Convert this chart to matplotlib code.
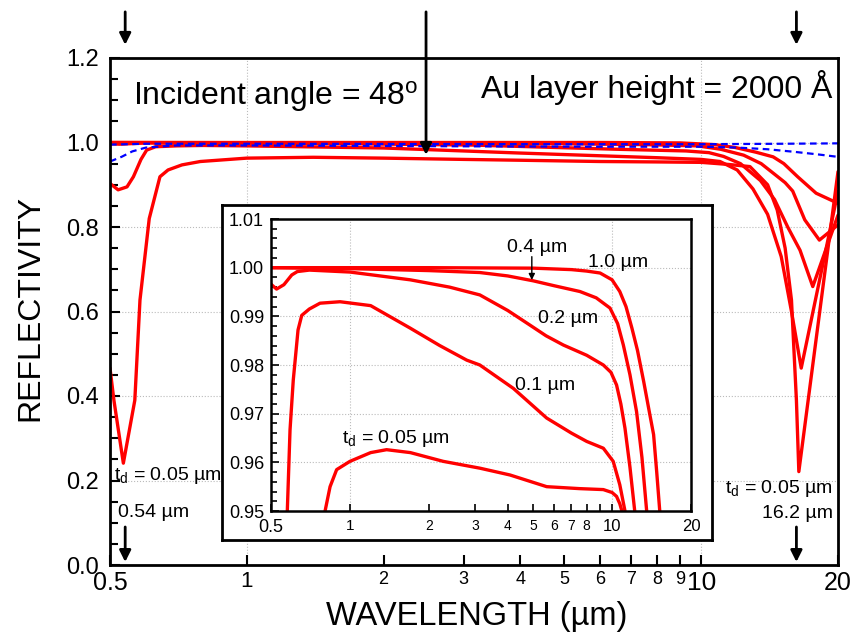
import matplotlib
matplotlib.use("Agg")
import numpy as np
import matplotlib.pyplot as plt
from matplotlib.ticker import MultipleLocator, NullLocator

plt.rcParams['font.family'] = ['Liberation Sans', 'DejaVu Sans']
plt.rcParams['mathtext.fontset'] = 'custom'
plt.rcParams['mathtext.rm'] = 'Liberation Sans'
plt.rcParams['mathtext.it'] = 'Liberation Sans:italic'

# ---- main chart: reflectivity vs wavelength (um), one curve per t_d ----
main_x_005 = [0.5, 0.51, 0.535, 0.567, 0.582, 0.61, 0.644, 0.671, 0.72, 0.79, 1.0, 1.4, 2, 3, 4, 6, 8, 10,
              11.5, 12.8, 14.0, 14.7, 15.3, 15.8, 16.2, 16.4, 20]
main_y_005 = [0.466, 0.39, 0.241, 0.39, 0.627, 0.82, 0.919, 0.935, 0.947, 0.955, 0.963, 0.965, 0.963, 0.960,
              0.958, 0.955, 0.954, 0.953, 0.948, 0.943, 0.90, 0.84, 0.75, 0.627, 0.39, 0.221, 0.931]

main_x_01 = [0.5, 0.521, 0.545, 0.563, 0.585, 0.602, 0.63, 0.7, 0.8, 1.0, 2, 4, 8, 10, 11, 12, 13, 14, 15,
             15.8, 16.6, 20]
main_y_01 = [0.903, 0.888, 0.895, 0.919, 0.96, 0.982, 0.99, 0.992, 0.993, 0.992, 0.987, 0.975, 0.964, 0.960,
             0.955, 0.935, 0.89, 0.83, 0.73, 0.60, 0.466, 0.884]

main_x_02 = [0.5, 0.525, 0.6, 1.0, 1.7, 3.13, 4.86, 6.52, 9.26, 10.4, 11.2, 12.2, 13.5, 14.5, 15.5, 16.5,
             17.6, 20]
main_y_02 = [0.997, 0.996, 0.999, 0.999, 0.997, 0.994, 0.988, 0.984, 0.980, 0.976, 0.967, 0.95, 0.91, 0.865,
             0.80, 0.745, 0.659, 0.828]

main_x_04 = [0.5, 1, 3.13, 5, 7.54, 9.82, 11.04, 12.4, 13.55, 14.5, 15.3, 15.9, 16.9, 18.2, 20]
main_y_04 = [1.0, 0.9995, 0.999, 0.997, 0.995, 0.992, 0.984, 0.970, 0.95, 0.925, 0.905, 0.885, 0.817, 0.769,
             0.805]

main_x_10 = [0.5, 6, 9, 10.7, 11.9, 13.2, 14.4, 15.2, 16.3, 17.9, 20]
main_y_10 = [1.0, 1.0, 0.999, 0.995, 0.988, 0.977, 0.966, 0.95, 0.919, 0.880, 0.856]

# blue dashed curves
blue_x_a = [0.5, 0.53, 0.56, 0.6, 0.7, 1, 3, 6, 10, 12, 14, 16, 18, 20]
blue_y_a = [0.955, 0.966, 0.979, 0.988, 0.993, 0.993, 0.991, 0.990, 0.990, 0.988, 0.984, 0.978, 0.972, 0.966]
blue_x_b = [0.5, 0.6, 1, 5, 10, 15, 20]
blue_y_b = [0.995, 0.997, 0.997, 0.996, 0.996, 0.997, 0.998]

# ---- inset: zoom 0.95 - 1.01 ----
ins_x_005 = [0.804, 0.84, 0.89, 1.0, 1.2, 1.38, 1.7, 2.27, 3.13, 4.08, 5.63, 7.5, 9.26, 10.0, 10.4, 10.7, 10.9]
ins_y_005 = [0.950, 0.955, 0.9585, 0.9602, 0.9620, 0.9626, 0.9620, 0.9602, 0.9588, 0.9574, 0.9550, 0.9546,
             0.9544, 0.9538, 0.9530, 0.9515, 0.950]

ins_x_01 = [0.577, 0.591, 0.608, 0.634, 0.655, 0.7, 0.769, 0.917, 1.2, 1.695, 2.2, 2.79, 3.13, 4.2, 5.63, 7.0,
            8.0, 9.26, 10.1, 10.7, 11.2]
ins_y_01 = [0.950, 0.9667, 0.9769, 0.9872, 0.9902, 0.9915, 0.9927, 0.9930, 0.9922, 0.9876, 0.984, 0.981,
            0.980, 0.9752, 0.9691, 0.966, 0.9643, 0.9629, 0.9602, 0.9554, 0.950]

ins_x_02 = [0.5, 0.525, 0.56, 0.6, 0.63, 0.7, 1.0, 1.7, 2.4, 3.13, 4.0, 4.86, 5.6, 6.52, 8.0, 9.26, 9.9, 10.4,
            10.8, 11.2, 11.7, 12.2]
ins_y_02 = [0.9966, 0.9956, 0.9965, 0.9985, 0.9992, 0.9995, 0.9991, 0.9975, 0.996, 0.9944, 0.9912, 0.9882,
            0.986, 0.9841, 0.982, 0.980, 0.9785, 0.9759, 0.972, 0.967, 0.959, 0.950]

ins_x_04 = [0.5, 1, 2, 3.13, 4, 5, 6, 7.54, 8.7, 9.82, 10.5, 11.04, 11.7, 12.4, 13.0, 13.55]
ins_y_04 = [1.000, 0.9998, 0.9994, 0.9990, 0.9983, 0.9973, 0.9963, 0.9951, 0.9938, 0.9917, 0.9885, 0.9841,
            0.978, 0.9704, 0.961, 0.950]

ins_x_10 = [0.5, 2, 5, 7, 8, 9, 10, 10.7, 11.3, 11.9, 12.5, 13.2, 13.8, 14.4, 14.8, 15.2]
ins_y_10 = [1.000, 1.000, 0.9999, 0.9996, 0.9993, 0.9989, 0.9975, 0.9951, 0.992, 0.9876, 0.983, 0.9766,
            0.971, 0.9657, 0.958, 0.950]

x_ticks = [0.5, 1, 2, 3, 4, 5, 6, 7, 8, 9, 10, 20]
x_tick_labels = ['0.5', '1', '2', '3', '4', '5', '6', '7', '8', '9', '10', '20']
x_tick_sizes = [18, 16, 13, 13, 13, 13, 13, 13, 13, 13, 19, 18]
ins_tick_labels = ['0.5', '1', '2', '3', '4', '5', '6', '7', '8', '', '10', '20']
ins_tick_sizes = [13, 11, 10, 10, 10, 10, 10, 10, 10, 10, 12, 12]

W, H = 853, 637
fig = plt.figure(figsize=(W / 100, H / 100), dpi=100)

ax = fig.add_axes([110 / W, 72 / H, 728 / W, 507 / H])
red = dict(color='#ff0000', lw=2.4, solid_joinstyle='round', solid_capstyle='round')
for xs, ys in [(main_x_005, main_y_005), (main_x_01, main_y_01), (main_x_02, main_y_02),
               (main_x_04, main_y_04), (main_x_10, main_y_10)]:
    ax.plot(xs, ys, **red)
for xs, ys in [(blue_x_a, blue_y_a), (blue_x_b, blue_y_b)]:
    ax.plot(xs, ys, color='#0000ff', lw=1.6, linestyle=(0, (3, 2)))

ax.set_xscale('log')
ax.set_xlim(0.5, 20)
ax.set_ylim(0, 1.2)
for v in [1, 10]:
    ax.axvline(v, color='#bbbbbb', lw=0.8, ls=':', zorder=0)
for v in [0.2, 0.4, 0.6, 0.8, 1.0]:
    ax.axhline(v, color='#bbbbbb', lw=0.8, ls=':', zorder=0)

ax.set_xticks(x_ticks, x_tick_labels)
ax.xaxis.set_minor_locator(NullLocator())
for lab, fs in zip(ax.get_xticklabels(), x_tick_sizes):
    lab.set_fontsize(fs)
ax.set_yticks(np.arange(0, 1.21, 0.2), ['0.0', '0.2', '0.4', '0.6', '0.8', '1.0', '1.2'])
ax.yaxis.set_minor_locator(MultipleLocator(0.05))
ax.tick_params(axis='x', direction='in', length=7, width=1.5, pad=4)
ax.tick_params(axis='y', which='major', direction='in', length=7, width=1.5, labelsize=17, pad=8)
ax.tick_params(axis='y', which='minor', direction='in', length=6, width=1.5)
for s in ax.spines.values():
    s.set_linewidth(2)

fig.text(30 / W, 1 - 308 / H, 'REFLECTIVITY', rotation=90, ha='center', va='center', fontsize=23)
fig.text(477 / W, 1 - 617 / H, 'WAVELENGTH (µm)', ha='center', va='center', fontsize=23.5)

ax.text(0.0316, 0.907, 'Incident angle = 48$^{\\rm o}$', transform=ax.transAxes, fontsize=23,
        va='baseline', ha='left')
ax.text(0.992, 0.921, 'Au layer height = 2000 Å', transform=ax.transAxes, fontsize=23,
        va='baseline', ha='right')

ax.text(0.005, 0.168, 't$_{\\rm d}$ = 0.05 µm', transform=ax.transAxes, fontsize=14, va='baseline')
ax.text(0.011, 0.095, '0.54 µm', transform=ax.transAxes, fontsize=14, va='baseline')
ax.text(0.993, 0.142, 't$_{\\rm d}$ = 0.05 µm', transform=ax.transAxes, fontsize=14, va='baseline',
        ha='right')
ax.text(0.993, 0.093, '16.2 µm', transform=ax.transAxes, fontsize=14, va='baseline', ha='right')

arrow = dict(arrowstyle='-|>', color='black', lw=2, mutation_scale=17, shrinkA=0, shrinkB=0)
for xv, y0, y1 in [(0.54, 0.075, 0.006), (16.2, 0.075, 0.006), (0.54, 1.091, 1.026),
                   (16.2, 1.091, 1.026), (2.48, 1.091, 0.809)]:
    ax.annotate('', xy=(xv, y1), xytext=(xv, y0), xycoords=('data', 'axes fraction'),
                arrowprops=arrow, annotation_clip=False)

# inset frame
frame = fig.add_axes([222 / W, 97 / H, 490 / W, 335 / H], zorder=3)
frame.set_xticks([])
frame.set_yticks([])
for s in frame.spines.values():
    s.set_linewidth(2)

ins = fig.add_axes([271 / W, 126 / H, 420 / W, 292 / H], zorder=4)
for xs, ys in [(ins_x_005, ins_y_005), (ins_x_01, ins_y_01), (ins_x_02, ins_y_02),
               (ins_x_04, ins_y_04), (ins_x_10, ins_y_10)]:
    ins.plot(xs, ys, **red)
ins.set_xscale('log')
ins.set_xlim(0.5, 20)
ins.set_ylim(0.95, 1.01)
for v in [1, 10]:
    ins.axvline(v, color='#bbbbbb', lw=0.8, ls=':', zorder=0)
for v in [0.96, 0.97, 0.98, 0.99, 1.00]:
    ins.axhline(v, color='#bbbbbb', lw=0.8, ls=':', zorder=0)
ins.set_xticks(x_ticks, ins_tick_labels)
ins.xaxis.set_minor_locator(NullLocator())
for lab, fs in zip(ins.get_xticklabels(), ins_tick_sizes):
    lab.set_fontsize(fs)
ins.set_yticks([0.95, 0.96, 0.97, 0.98, 0.99, 1.00, 1.01],
               ['0.95', '0.96', '0.97', '0.98', '0.99', '1.00', '1.01'])
ins.yaxis.set_minor_locator(MultipleLocator(0.002))
ins.tick_params(axis='x', direction='in', length=5, width=1.2, pad=6)
ins.tick_params(axis='y', which='major', direction='in', length=6, width=1.2, labelsize=13, pad=5)
ins.tick_params(axis='y', which='minor', direction='in', length=4, width=1.2)
for s in ins.spines.values():
    s.set_linewidth(1.8)

ins.text(0.168, 0.233, 't$_{\\rm d}$ = 0.05 µm', transform=ins.transAxes, fontsize=14, va='baseline')
ins.text(0.581, 0.414, '0.1 µm', transform=ins.transAxes, fontsize=14, va='baseline')
ins.text(0.636, 0.643, '0.2 µm', transform=ins.transAxes, fontsize=14, va='baseline')
ins.text(0.561, 0.887, '0.4 µm', transform=ins.transAxes, fontsize=14, va='baseline')
ins.text(0.755, 0.836, '1.0 µm', transform=ins.transAxes, fontsize=14, va='baseline')
ins.annotate('', xy=(0.621, 0.791), xytext=(0.621, 0.871), xycoords='axes fraction',
             arrowprops=dict(arrowstyle='-|>', color='black', lw=1, mutation_scale=9,
                             shrinkA=0, shrinkB=0))

fig.savefig('out.png', dpi=100)
